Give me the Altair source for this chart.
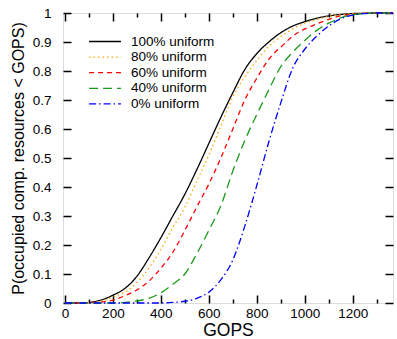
import altair as alt
import pandas as pd

# ---- data ----
series_names = ["100% uniform", "80% uniform", "60% uniform", "40% uniform", "0% uniform"]

x_100 = [0, 50, 100, 150, 200, 250, 300, 350, 400, 450, 500, 550, 600, 650, 700, 750, 800, 850, 900, 950, 1000, 1050, 1100, 1150, 1200, 1250, 1300, 1368]
y_100 = [0, 0, 0.002, 0.01, 0.027, 0.05, 0.092, 0.155, 0.225, 0.3, 0.375, 0.46, 0.55, 0.64, 0.725, 0.805, 0.86, 0.9, 0.932, 0.955, 0.97, 0.982, 0.99, 0.995, 0.998, 0.999, 1, 1]

x_80 = [0, 100, 150, 200, 264, 300, 350, 400, 450, 500, 550, 600, 650, 700, 750, 785, 850, 910, 950, 1000, 1050, 1100, 1150, 1200, 1250, 1300, 1368]
y_80 = [0, 0.001, 0.006, 0.02, 0.045, 0.07, 0.12, 0.185, 0.26, 0.33, 0.42, 0.51, 0.61, 0.71, 0.78, 0.82, 0.885, 0.924, 0.945, 0.965, 0.978, 0.988, 0.994, 0.998, 0.999, 1, 1]

x_60 = [0, 150, 200, 250, 300, 350, 400, 450, 500, 549, 600, 650, 700, 750, 800, 850, 910, 950, 1000, 1050, 1100, 1150, 1200, 1250, 1300, 1368]
y_60 = [0, 0.003, 0.01, 0.025, 0.045, 0.075, 0.12, 0.175, 0.25, 0.33, 0.41, 0.5, 0.6, 0.7, 0.775, 0.84, 0.89, 0.92, 0.945, 0.962, 0.978, 0.99, 0.996, 0.999, 1, 1]

x_40 = [0, 200, 250, 300, 350, 400, 450, 500, 550, 600, 650, 700, 750, 800, 850, 900, 950, 1000, 1050, 1100, 1150, 1200, 1250, 1300, 1368]
y_40 = [0, 0, 0.002, 0.007, 0.016, 0.035, 0.065, 0.1, 0.17, 0.25, 0.335, 0.455, 0.56, 0.65, 0.735, 0.815, 0.865, 0.905, 0.94, 0.965, 0.983, 0.994, 0.998, 1, 1]

x_0 = [0, 400, 450, 500, 550, 600, 650, 700, 750, 800, 850, 900, 950, 1000, 1050, 1100, 1150, 1200, 1250, 1300, 1368]
y_0 = [0, 0, 0.002, 0.006, 0.016, 0.037, 0.08, 0.148, 0.265, 0.405, 0.555, 0.69, 0.81, 0.875, 0.92, 0.955, 0.98, 0.993, 0.998, 1, 1]

x_major = [0, 200, 400, 600, 800, 1000, 1200]
x_minor = [100, 300, 500, 700, 900, 1100, 1300]
y_major = [0, 0.1, 0.2, 0.3, 0.4, 0.5, 0.6, 0.7, 0.8, 0.9, 1]

colors = ["#000000", "#FFA500", "#FF0000", "#1a9a1a", "#0000FF"]
dashes = [[1, 0], [1.5, 3], [5, 4], [9, 5], [7, 3, 1.5, 3]]

xs = [x_100, x_80, x_60, x_40, x_0]
ys = [y_100, y_80, y_60, y_40, y_0]
rows = []
for name, xv, yv in zip(series_names, xs, ys):
    for a, b in zip(xv, yv):
        rows.append({"GOPS": a, "P": b, "series": name})
df = pd.DataFrame(rows)

W, H = 330, 290
FONT = "Liberation Sans"
xscale = alt.Scale(domain=[-8, 1368], nice=False, zero=False)
yscale = alt.Scale(domain=[0, 1], nice=False, zero=False)
IN_MAJOR = alt.ExprRef("-8")
IN_MINOR = alt.ExprRef("-4")

lines = alt.Chart(df).mark_line(strokeWidth=1.3, interpolate="monotone").encode(
    x=alt.X("GOPS:Q", scale=xscale, title="GOPS",
            axis=alt.Axis(values=x_major, format="d", ticks=True, tickSize=IN_MAJOR,
                          tickColor="black", tickWidth=1.5, domain=False, grid=False,
                          labelFontSize=13.5, labelPadding=11, labelFont=FONT,
                          labelColor="black", titleFont=FONT, titleFontSize=17.5,
                          titleFontWeight="normal", titleColor="black", titlePadding=2)),
    y=alt.Y("P:Q", scale=yscale, title="P(occupied comp. resources < GOPS)",
            axis=alt.Axis(values=y_major, format="~g", ticks=True, tickSize=IN_MAJOR,
                          tickColor="black", tickWidth=1.5, domain=False, grid=False,
                          labelFontSize=13.5, labelPadding=20, labelFont=FONT,
                          labelColor="black", titleFont=FONT, titleFontSize=16,
                          titleFontWeight="normal", titleColor="black", titlePadding=6)),
    color=alt.Color("series:N", scale=alt.Scale(domain=series_names, range=colors),
                    legend=alt.Legend(title=None, orient="none", legendX=34.5, legendY=21,
                                      symbolType="M-2.45,0H2.45", symbolSize=169,
                                      symbolStrokeWidth=1.3, labelFont=FONT,
                                      labelFontSize=13.5, labelColor="black",
                                      labelOffset=18.5, rowPadding=1.6, padding=0)),
    strokeDash=alt.StrokeDash("series:N", scale=alt.Scale(domain=series_names, range=dashes),
                              legend=None),
)


def tick_layer(xorient, yorient, xvals, yvals, size):
    xa = alt.Axis(orient=xorient, values=xvals, labels=False, domain=False, title="",
                  grid=False, ticks=True, tickSize=size, tickColor="black", tickWidth=1.5)
    enc = {"x": alt.X("GOPS:Q", scale=xscale, axis=xa)}
    if yvals is not None:
        ya = alt.Axis(orient=yorient, values=yvals, labels=False, domain=False, title="",
                      grid=False, ticks=True, tickSize=size, tickColor="black", tickWidth=1.5)
        enc["y"] = alt.Y("P:Q", scale=yscale, axis=ya)
    else:
        enc["y"] = alt.Y("P:Q", scale=yscale, axis=None)
    return alt.Chart(df).mark_point(opacity=0).encode(**enc)


t_top_right = tick_layer("top", "right", x_major, y_major, IN_MAJOR)
t_top_minor = tick_layer("top", "right", x_minor, None, IN_MINOR)
t_bot_minor = tick_layer("bottom", "left", x_minor, None, IN_MINOR)

chart = alt.layer(lines, t_top_right, t_top_minor, t_bot_minor).resolve_axis(
    x="independent", y="independent"
).properties(
    width=W, height=H,
    autosize=alt.AutoSizeParams(type="none"),
    padding={"left": 63, "top": 13, "right": 4, "bottom": 36},
).configure_view(stroke="black", strokeWidth=1.3).configure(background="white")

chart.save("out.html", embed_options={"renderer": "svg", "actions": False})
